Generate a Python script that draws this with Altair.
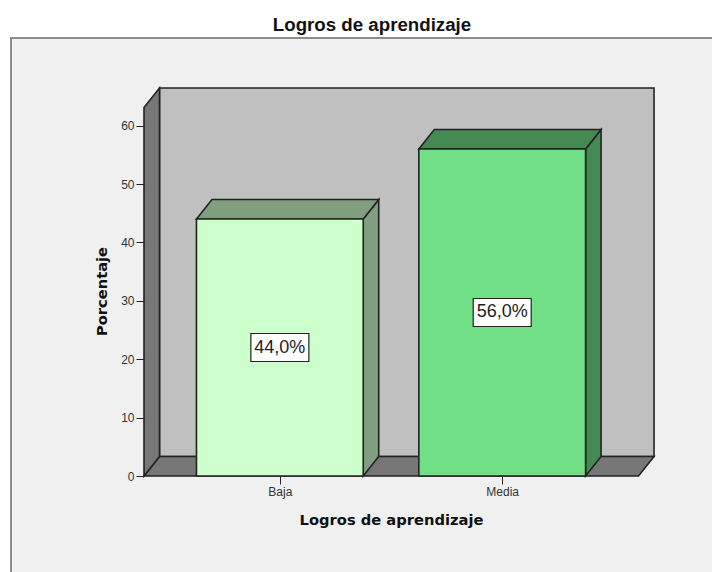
import altair as alt
import pandas as pd

categories = ["Baja", "Media"]
percentages = [44.0, 56.0]
value_labels = ["44,0%", "56,0%"]
title_text = "Logros de aprendizaje"
y_title = "Porcentaje"
y_ticks = [0, 10, 20, 30, 40, 50, 60]

front_colors = ["#CCFFCC", "#70DF85"]
shade_colors = ["#7F9F7F", "#458A52"]

# chart space: categories sit at 1, 2; y is percent
x_left, x_right = 0.389, 2.613
half_bar = 0.375
depth_x, depth_y = 0.0697, 3.34
wall_top = 63.1


def side(key, color, x0, low, high):
    return [
        dict(key=key, color=color, x=x0, y=low, y2=high),
        dict(key=key, color=color, x=x0 + depth_x, y=low + depth_y, y2=high + depth_y),
    ]


def top(key, color, x0, x1, level):
    return [
        dict(key=key, color=color, x=x0, y=level, y2=level),
        dict(key=key, color=color, x=x0 + depth_x, y=level + depth_y, y2=level),
        dict(key=key, color=color, x=x1, y=level + depth_y, y2=level),
        dict(key=key, color=color, x=x1 + depth_x, y=level + depth_y, y2=level + depth_y),
    ]


walls = []
walls += [
    dict(key="back", color="#C0C0C0", x=x_left + depth_x, y=depth_y, y2=wall_top + depth_y),
    dict(key="back", color="#C0C0C0", x=x_right + depth_x, y=depth_y, y2=wall_top + depth_y),
]
walls += top("floor", "#777777", x_left, x_right, 0)
walls += side("left", "#777777", x_left, 0, wall_top)

boxes = []
for i, (cat, val) in enumerate(zip(categories, percentages)):
    c = i + 1
    boxes += side(cat + "-side", shade_colors[i], c + half_bar, 0, val)
    boxes += top(cat + "-top", shade_colors[i], c - half_bar, c + half_bar, val)
    boxes += [
        dict(key=cat + "-front", color=front_colors[i], x=c - half_bar, y=0, y2=val),
        dict(key=cat + "-front", color=front_colors[i], x=c + half_bar, y=0, y2=val),
    ]

labels = pd.DataFrame(
    {"x": [1, 2], "y": [v / 2 for v in percentages], "label": value_labels}
)

W, H = 510, 388
x_scale = alt.Scale(domain=[x_left, x_right + depth_x], nice=False, zero=False)
y_scale = alt.Scale(domain=[0, wall_top + depth_y], nice=False)
axis_font = "Liberation Sans"
title_font = "DejaVu Sans"

x_enc = alt.X(
    "x:Q",
    scale=x_scale,
    axis=alt.Axis(
        values=[1, 2],
        labelExpr="datum.value == 1 ? 'Baja' : 'Media'",
        domain=False,
        grid=False,
        zindex=1,
        tickSize=8,
        tickColor="#222222",
        labelFont=axis_font,
        labelFontSize=12,
        labelColor="#333333",
        labelPadding=2,
        title=title_text,
        titleFont=title_font,
        titleFontSize=14.7,
        titleFontWeight="bold",
        titleColor="#111111",
        titleX=247,
        titleY=48,
        titleBaseline="alphabetic",
    ),
)
y_enc = alt.Y(
    "y:Q",
    scale=y_scale,
    stack=None,
    axis=alt.Axis(
        values=y_ticks,
        domain=False,
        grid=False,
        zindex=1,
        tickSize=8,
        tickColor="#222222",
        labelFont=axis_font,
        labelFontSize=12,
        labelColor="#333333",
        labelPadding=2,
        title=y_title,
        titleFont=title_font,
        titleFontSize=14.7,
        titleFontWeight="bold",
        titleColor="#111111",
        titleX=-35,
        titleY=203,
    ),
)

panel = (
    alt.Chart(pd.DataFrame({"a": [0]}))
    .mark_rect(fill="#F0F0F0", stroke="#8C8C8C", strokeWidth=2)
    .encode(
        x=alt.value(-133),
        x2=alt.value(600),
        y=alt.value(-50),
        y2=alt.value(520),
    )
)


def faces(rows):
    return (
        alt.Chart(pd.DataFrame(rows))
        .mark_area(stroke="#222222", strokeWidth=1.6, interpolate="linear", strokeJoin="miter")
        .encode(
            x=x_enc,
            y=y_enc,
            y2="y2:Q",
            detail="key:N",
            fill=alt.Fill("color:N", scale=None),
        )
    )


label_box = (
    alt.Chart(labels)
    .mark_rect(fill="white", stroke="#222222", strokeWidth=1.2, width=58, height=28)
    .encode(x=alt.X("x:Q", scale=x_scale), y=alt.Y("y:Q", scale=y_scale))
)
label_text = (
    alt.Chart(labels)
    .mark_text(font=axis_font, fontSize=18, color="#222222")
    .encode(x=alt.X("x:Q", scale=x_scale), y=alt.Y("y:Q", scale=y_scale), text="label:N")
)

layers = [panel, faces(walls)]
for cat in categories:
    layers.append(faces([r for r in boxes if r["key"].startswith(cat)]))
layers += [label_box, label_text]

chart = (
    alt.layer(*layers)
    .properties(
        width=W,
        height=H,
        title=alt.TitleParams(
            title_text,
            font=axis_font,
            fontSize=18.7,
            fontWeight="bold",
            color="#111111",
            anchor="middle",
            frame="group",
            dx=-27,
            offset=2,
        ),
        padding={"left": 136, "top": 80, "right": 58, "bottom": 96},
        autosize=alt.AutoSizeParams(type="none"),
    )
    .configure_view(stroke=None)
    .configure(background="white")
)

chart.save("out.html", embed_options={"renderer": "svg", "actions": False})
